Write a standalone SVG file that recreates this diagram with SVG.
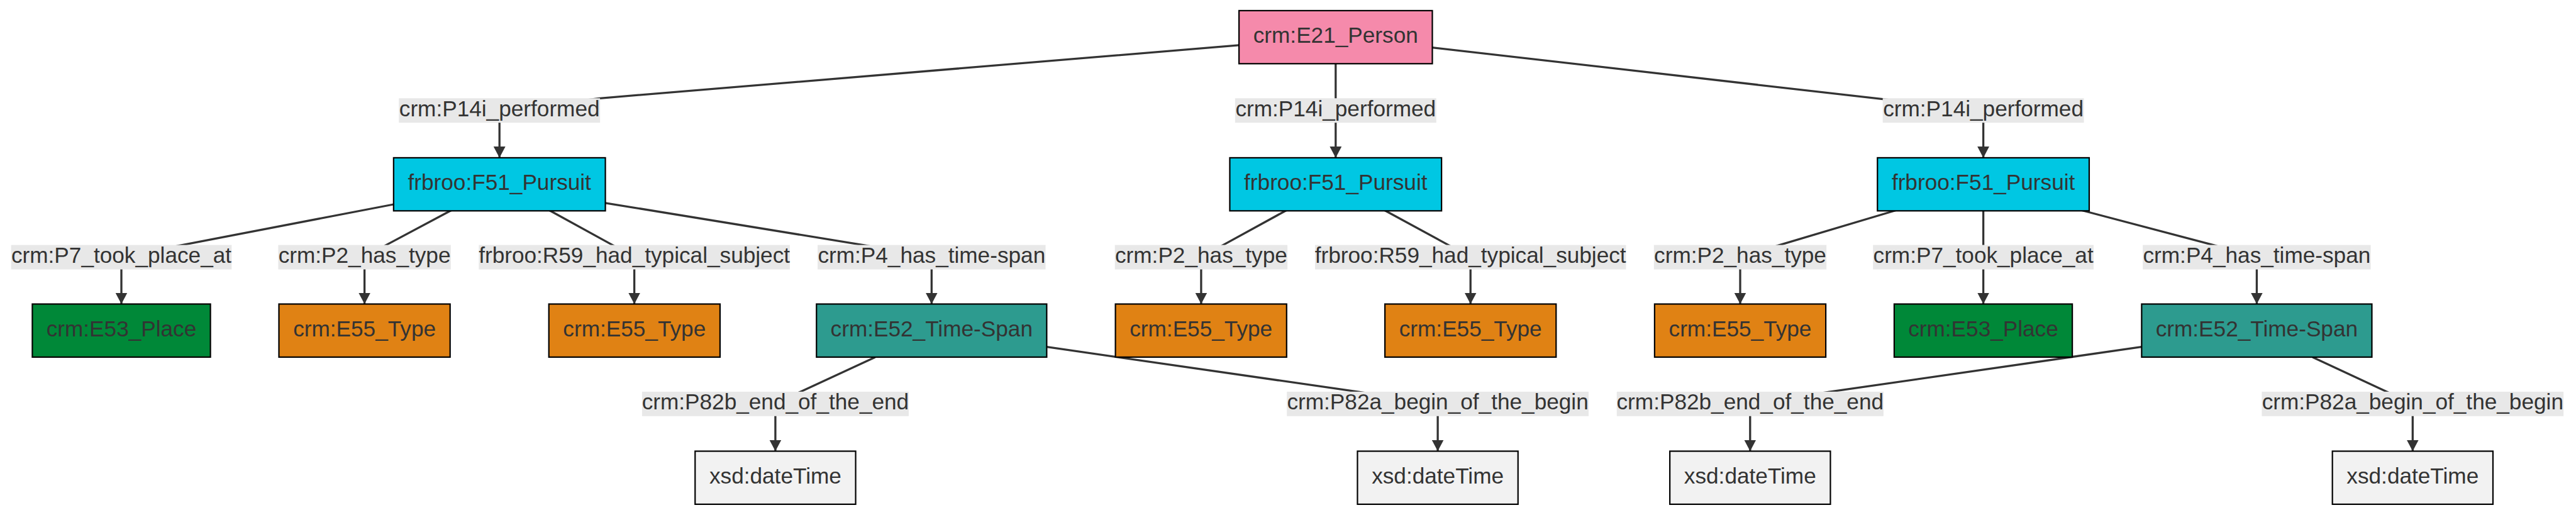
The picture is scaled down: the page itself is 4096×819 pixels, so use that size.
<svg xmlns="http://www.w3.org/2000/svg" width="4096" height="819" viewBox="0 0 4096 819">
<style>
.nd{stroke:#000;stroke-width:2.2}
.t{font-family:"Liberation Sans",Arial,sans-serif;font-size:35.2px;fill:#333;text-anchor:middle}
.e{fill:none;stroke:#333;stroke-width:3.3;marker-end:url(#arr)}
.lb{fill:#e8e8e8}
.person{fill:#F58AAB}.pursuit{fill:#00C7E3}.type{fill:#E08214}.place{fill:#008838}.span{fill:#2D9B8F}.lit{fill:#F2F2F2}
</style>
<defs>
<marker id="arr" viewBox="0 0 18 19" refX="18" refY="9.5" markerWidth="18" markerHeight="19" markerUnits="userSpaceOnUse" orient="auto">
<path d="M0,0 L18,9.5 L0,19 z" fill="#333"/>
</marker>
</defs>
<rect width="4096" height="819" fill="#fff"/>
<g id="connectors">
<path class="e" d="M1969.9,71.9 L953.8,156.3 L794.2,175.7 L794.2,250.9"/>
<path class="e" d="M2123.8,101.3 L2123.8,250.9"/>
<path class="e" d="M2277.3,75.6 L2994,157.7 L3153.6,175.7 L3153.6,250.9"/>
<path class="e" d="M625.8,325 L289.8,389.6 L193,409 L193,483.5"/>
<path class="e" d="M717.5,334.5 L614.1,389.6 L579.6,409 L579.6,483.5"/>
<path class="e" d="M873.6,334.5 L973.9,389.6 L1008.6,409 L1008.6,483.5"/>
<path class="e" d="M962.6,322.8 L1372.4,389.6 L1481.3,409 L1481.3,483.5"/>
<path class="e" d="M1391.7,567.9 L1272.9,622.9 L1232.9,642.3 L1232.9,717.5"/>
<path class="e" d="M1664.4,551.7 L2158.4,622.9 L2286.1,642.3 L2286.1,717.5"/>
<path class="e" d="M2045.4,334.5 L1944.9,389.6 L1909.9,409 L1909.9,483.5"/>
<path class="e" d="M2201.7,334.5 L2303,389.6 L2338.2,409 L2338.2,483.5"/>
<path class="e" d="M3014.6,334.5 L2829.7,389.6 L2767,409 L2767,483.5"/>
<path class="e" d="M3153.6,335.3 L3153.6,483.5"/>
<path class="e" d="M3310.2,334.5 L3519.3,389.6 L3588.4,409 L3588.4,483.5"/>
<path class="e" d="M3405,551.7 L2910.5,622.9 L2782.8,642.3 L2782.8,717.5"/>
<path class="e" d="M3677.1,567.9 L3795.2,622.9 L3836.3,642.3 L3836.3,717.5"/>
</g>
<g id="edge-labels">
<rect class="lb" x="634.25" y="156.25" width="319.9" height="38.9"/><text class="t" x="794.2" y="184.7">crm:P14i_performed</text>
<rect class="lb" x="1963.85" y="156.25" width="319.9" height="38.9"/><text class="t" x="2123.8" y="184.7">crm:P14i_performed</text>
<rect class="lb" x="2993.65" y="156.25" width="319.9" height="38.9"/><text class="t" x="3153.6" y="184.7">crm:P14i_performed</text>
<rect class="lb" x="17.65" y="389.55" width="350.7" height="38.9"/><text class="t" x="193" y="418">crm:P7_took_place_at</text>
<rect class="lb" x="442.4" y="389.55" width="274.4" height="38.9"/><text class="t" x="579.6" y="418">crm:P2_has_type</text>
<rect class="lb" x="761.35" y="389.55" width="494.5" height="38.9"/><text class="t" x="1008.6" y="418">frbroo:R59_had_typical_subject</text>
<rect class="lb" x="1300.1" y="389.55" width="362.4" height="38.9"/><text class="t" x="1481.3" y="418">crm:P4_has_time-span</text>
<rect class="lb" x="1772.7" y="389.55" width="274.4" height="38.9"/><text class="t" x="1909.9" y="418">crm:P2_has_type</text>
<rect class="lb" x="2090.95" y="389.55" width="494.5" height="38.9"/><text class="t" x="2338.2" y="418">frbroo:R59_had_typical_subject</text>
<rect class="lb" x="2629.8" y="389.55" width="274.4" height="38.9"/><text class="t" x="2767" y="418">crm:P2_has_type</text>
<rect class="lb" x="2978.25" y="389.55" width="350.7" height="38.9"/><text class="t" x="3153.6" y="418">crm:P7_took_place_at</text>
<rect class="lb" x="3407.2" y="389.55" width="362.4" height="38.9"/><text class="t" x="3588.4" y="418">crm:P4_has_time-span</text>
<rect class="lb" x="1020.85" y="622.85" width="424.1" height="38.9"/><text class="t" x="1232.9" y="651.3">crm:P82b_end_of_the_end</text>
<rect class="lb" x="2046.2" y="622.85" width="479.8" height="38.9"/><text class="t" x="2286.1" y="651.3">crm:P82a_begin_of_the_begin</text>
<rect class="lb" x="2570.75" y="622.85" width="424.1" height="38.9"/><text class="t" x="2782.8" y="651.3">crm:P82b_end_of_the_end</text>
<rect class="lb" x="3596.4" y="622.85" width="479.8" height="38.9"/><text class="t" x="3836.3" y="651.3">crm:P82a_begin_of_the_begin</text>
</g>
<g id="person"><rect class="nd person" x="1970.1" y="16.9" width="307.4" height="84.4"/><text class="t" x="2123.8" y="68.3">crm:E21_Person</text></g>
<g id="pursuit1"><rect class="nd pursuit" x="625.85" y="250.9" width="336.7" height="84.4"/><text class="t" x="794.2" y="302.3">frbroo:F51_Pursuit</text></g>
<g id="pursuit2"><rect class="nd pursuit" x="1955.45" y="250.9" width="336.7" height="84.4"/><text class="t" x="2123.8" y="302.3">frbroo:F51_Pursuit</text></g>
<g id="pursuit3"><rect class="nd pursuit" x="2985.25" y="250.9" width="336.7" height="84.4"/><text class="t" x="3153.6" y="302.3">frbroo:F51_Pursuit</text></g>
<g id="place1"><rect class="nd place" x="51.4" y="483.5" width="283.2" height="84.4"/><text class="t" x="193" y="534.9">crm:E53_Place</text></g>
<g id="type1"><rect class="nd type" x="443.5" y="483.5" width="272.2" height="84.4"/><text class="t" x="579.6" y="534.9">crm:E55_Type</text></g>
<g id="type2"><rect class="nd type" x="872.7" y="483.5" width="272.2" height="84.4"/><text class="t" x="1008.8" y="534.9">crm:E55_Type</text></g>
<g id="timespan1"><rect class="nd span" x="1298.25" y="483.5" width="366.1" height="84.4"/><text class="t" x="1481.3" y="534.9">crm:E52_Time-Span</text></g>
<g id="type3"><rect class="nd type" x="1773.6" y="483.5" width="272.2" height="84.4"/><text class="t" x="1909.7" y="534.9">crm:E55_Type</text></g>
<g id="type4"><rect class="nd type" x="2202.1" y="483.5" width="272.2" height="84.4"/><text class="t" x="2338.2" y="534.9">crm:E55_Type</text></g>
<g id="type5"><rect class="nd type" x="2630.9" y="483.5" width="272.2" height="84.4"/><text class="t" x="2767" y="534.9">crm:E55_Type</text></g>
<g id="place2"><rect class="nd place" x="3011.9" y="483.5" width="283.2" height="84.4"/><text class="t" x="3153.5" y="534.9">crm:E53_Place</text></g>
<g id="timespan2"><rect class="nd span" x="3405.35" y="483.5" width="366.1" height="84.4"/><text class="t" x="3588.4" y="534.9">crm:E52_Time-Span</text></g>
<g id="datetime1"><rect class="nd lit" x="1105.25" y="717.5" width="255.3" height="84.4"/><text class="t" x="1232.9" y="768.9">xsd:dateTime</text></g>
<g id="datetime2"><rect class="nd lit" x="2158.45" y="717.5" width="255.3" height="84.4"/><text class="t" x="2286.1" y="768.9">xsd:dateTime</text></g>
<g id="datetime3"><rect class="nd lit" x="2655.15" y="717.5" width="255.3" height="84.4"/><text class="t" x="2782.8" y="768.9">xsd:dateTime</text></g>
<g id="datetime4"><rect class="nd lit" x="3708.65" y="717.5" width="255.3" height="84.4"/><text class="t" x="3836.3" y="768.9">xsd:dateTime</text></g>
</svg>
